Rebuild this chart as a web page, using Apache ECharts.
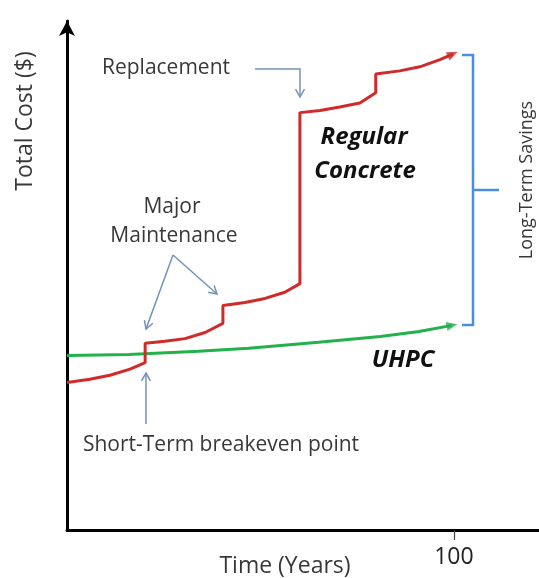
<!DOCTYPE html>
<html>
<head>
<meta charset="utf-8">
<script src="https://cdn.jsdelivr.net/npm/echarts@6/dist/echarts.min.js"></script>
<style>
  html, body { margin: 0; padding: 0; background: #fff; }
  #main { width: 539px; height: 578px; }
</style>
</head>
<body>
<div id="main"></div>
<script>
// 数据
const regularYears = [0, 5.9, 11.1, 16.3, 20.2, 20.2, 25.3, 30.5, 35.7, 40.3, 40.3, 46.0, 51.2, 56.3, 60.2, 60.2, 65.4, 70.5, 75.7, 79.8, 79.8, 86.0, 91.2, 96.4, 99.7];
const regularCost = [29.0, 29.6, 30.4, 31.6, 32.9, 36.7, 37.1, 37.6, 38.8, 40.6, 44.1, 44.7, 45.5, 46.7, 48.4, 82.0, 82.4, 83.1, 83.9, 85.9, 89.6, 90.2, 91.0, 92.4, 93.5];
const uhpcYears = [0, 16, 34, 47, 65, 81, 91, 99.5];
const uhpcCost = [34.3, 34.5, 35.1, 35.7, 36.9, 38.0, 39.0, 40.2];
const xTicks = [100];

const font = '"Open Sans", "Noto Sans", sans-serif';
const noteColor = '#7392bb';
const bracketColor = '#4a90d9';

function pairs(xs, ys) {
    return xs.map(function(x, i) { return [x, ys[i]]; });
}

// 箭头
function arrow(points, color, width) {
    let n = points.length;
    let tip = points[n - 1], prev = points[n - 2];
    let ang = Math.atan2(tip[1] - prev[1], tip[0] - prev[0]);
    let len = 9, spread = Math.PI / 6;
    let head = [
        [tip[0] - len * Math.cos(ang - spread), tip[1] - len * Math.sin(ang - spread)],
        tip,
        [tip[0] - len * Math.cos(ang + spread), tip[1] - len * Math.sin(ang + spread)]
    ];
    let style = { stroke: color, lineWidth: width, fill: null };
    return [
        { type: 'polyline', shape: { points: points }, style: style },
        { type: 'polyline', shape: { points: head }, style: style }
    ];
}

function label(text, x, y, size, opts) {
    let o = opts || {};
    return {
        type: 'text',
        x: x,
        y: y,
        rotation: o.rotation || 0,
        style: {
            text: text,
            font: (o.weight || '') + ' ' + size + 'px ' + font,
            fill: o.fill || '#383838',
            align: 'center',
            verticalAlign: 'middle'
        }
    };
}

let myChart = echarts.init(document.getElementById('main'));

let graphics = [];
graphics.push(label('Total Cost ($)', 25, 121, 23, { rotation: Math.PI / 2 }));
graphics.push(label('Time (Years)', 285, 566, 23));
graphics.push(label('Long-Term Savings', 527, 180, 18, { rotation: Math.PI / 2 }));
graphics.push(label('Replacement', 166, 68, 21));
graphics.push(label('Major', 172, 207, 21));
graphics.push(label('Maintenance', 174, 236, 21));
graphics.push(label('Short-Term breakeven point', 221, 445, 21));
graphics.push(label('Regular', 364, 137, 24, { weight: 'italic bold', fill: '#111' }));
graphics.push(label('Concrete', 365, 171, 24, { weight: 'italic bold', fill: '#111' }));
graphics.push(label('UHPC', 403, 360, 24, { weight: 'italic bold', fill: '#111' }));

graphics = graphics
    .concat(arrow([[255, 69], [300, 69], [300, 97]], noteColor, 1.5))
    .concat(arrow([[173, 255], [146, 329]], noteColor, 1.5))
    .concat(arrow([[173, 255], [217, 294]], noteColor, 1.5))
    .concat(arrow([[146, 424], [146, 373]], noteColor, 1.5));

// 长期节省括号
graphics.push({
    type: 'polyline',
    shape: { points: [[462, 55], [473, 55], [473, 325], [462, 325]] },
    style: { stroke: bracketColor, lineWidth: 2.5, fill: null }
});
graphics.push({
    type: 'line',
    shape: { x1: 473, y1: 190, x2: 499, y2: 190 },
    style: { stroke: bracketColor, lineWidth: 2.5 }
});

let regularData = pairs(regularYears, regularCost);
let uhpcData = pairs(uhpcYears, uhpcCost);

let option = {
    animation: false,
    grid: { left: 67, right: 0, top: 21, bottom: 48 },
    xAxis: {
        type: 'value',
        min: 0,
        max: 122,
        interval: 100,
        splitLine: { show: false },
        axisLine: { lineStyle: { color: '#000', width: 3 } },
        axisTick: { customValues: xTicks, length: 10, lineStyle: { color: '#444', width: 1.2 } },
        axisLabel: {
            customValues: xTicks,
            color: '#222',
            fontSize: 23,
            fontFamily: font,
            margin: 16
        }
    },
    yAxis: {
        type: 'value',
        min: 0,
        max: 100,
        splitLine: { show: false },
        axisTick: { show: false },
        axisLabel: { show: false },
        axisLine: {
            show: true,
            symbol: ['none', 'arrow'],
            symbolSize: [12, 15],
            lineStyle: { color: '#000', width: 3 }
        }
    },
    graphic: graphics,
    series: [{
            name: 'Regular Concrete',
            type: 'line',
            data: regularData,
            showSymbol: false,
            lineStyle: { color: '#d02a2a', width: 3 },
            z: 3
        },
        {
            name: 'UHPC',
            type: 'line',
            data: uhpcData,
            showSymbol: false,
            lineStyle: { color: '#22b14c', width: 3 },
            z: 2
        },
        {
            type: 'scatter',
            data: [regularData[regularData.length - 1]],
            symbol: 'triangle',
            symbolSize: [9, 11],
            symbolRotate: -65,
            itemStyle: { color: '#d02a2a' },
            z: 4
        },
        {
            type: 'scatter',
            data: [uhpcData[uhpcData.length - 1]],
            symbol: 'triangle',
            symbolSize: [9, 11],
            symbolRotate: -79,
            itemStyle: { color: '#22b14c' },
            z: 4
        }
    ]
};

myChart.setOption(option);
</script>
</body>
</html>
